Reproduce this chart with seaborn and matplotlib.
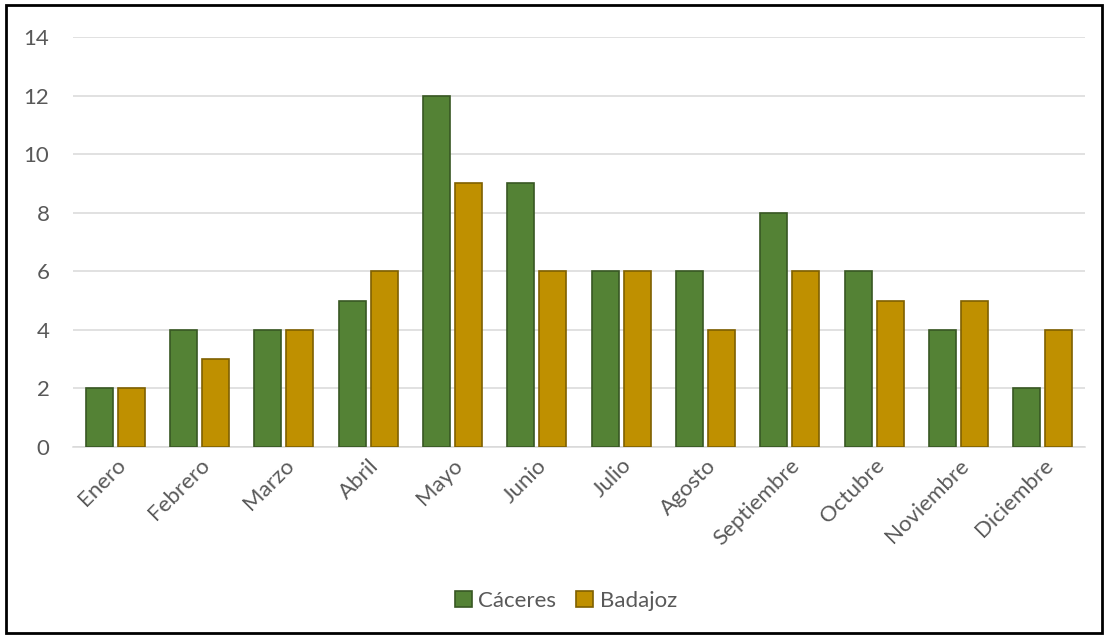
import matplotlib
matplotlib.use("Agg")
import matplotlib.pyplot as plt
from matplotlib.patches import Rectangle
import seaborn as sns
import pandas as pd

months = ["Enero", "Febrero", "Marzo", "Abril", "Mayo", "Junio", "Julio",
          "Agosto", "Septiembre", "Octubre", "Noviembre", "Diciembre"]
caceres = [2, 4, 4, 5, 12, 9, 6, 6, 8, 6, 4, 2]
badajoz = [2, 3, 4, 6, 9, 6, 6, 4, 6, 5, 5, 4]
series_names = ["Cáceres", "Badajoz"]
y_ticks = [0, 2, 4, 6, 8, 10, 12, 14]

fill_colors = ["#548235", "#BF9000"]
edge_colors = ["#385723", "#7F6000"]
text_color = "#595959"
grid_color = "#D9D9D9"

df = pd.DataFrame({
    "Mes": months * 2,
    "Valor": caceres + badajoz,
    "Provincia": [series_names[0]] * len(months) + [series_names[1]] * len(months),
})

sns.set_theme(style="white")
plt.rcParams["font.family"] = ["Lato", "DejaVu Sans"]

fig = plt.figure(figsize=(11.08, 6.37), dpi=100)
ax = fig.add_axes([73 / 1108, 1 - 447 / 637, (1085 - 73) / 1108, (447 - 37) / 637])

sns.barplot(data=df, x="Mes", y="Valor", hue="Provincia", order=months,
            hue_order=series_names, palette=fill_colors, saturation=1,
            width=0.76, gap=0.16, ax=ax, legend=False, zorder=3)

for container, ec in zip(ax.containers, edge_colors):
    for bar in container:
        bar.set_edgecolor(ec)
        bar.set_linewidth(1.2)

ax.set_ylim(0, 14)
ax.set_xlim(-0.5, len(months) - 0.5)
ax.set_yticks(y_ticks)
ax.set_yticklabels([str(t) for t in y_ticks])
ax.yaxis.grid(True, color=grid_color, linewidth=1.1, zorder=0)
ax.set_axisbelow(True)
for side in ["top", "right", "left"]:
    ax.spines[side].set_visible(False)
ax.spines["bottom"].set_color(grid_color)
ax.spines["bottom"].set_linewidth(1.1)
ax.set_xlabel("")
ax.set_ylabel("")
ax.tick_params(axis="y", length=0, pad=17, labelsize=16, labelcolor=text_color)
ax.tick_params(axis="x", length=0, pad=6, labelsize=16, labelcolor=text_color)
for lbl in ax.get_xticklabels():
    lbl.set_rotation(45)
    lbl.set_ha("right")
    lbl.set_va("top")
    lbl.set_rotation_mode("anchor")

handles = [Rectangle((0, 0), 1, 1, facecolor=fc, edgecolor=ec, linewidth=1.2)
           for fc, ec in zip(fill_colors, edge_colors)]
fig.legend(handles, series_names, loc="center", bbox_to_anchor=(566 / 1108, 1 - 601 / 637),
           ncol=2, frameon=False, fontsize=16, labelcolor=text_color,
           handlelength=0.75, handleheight=0.75, handletextpad=0.3, columnspacing=0.9)

fig.add_artist(Rectangle((6 / 1108, 4 / 637), 1096 / 1108, 628 / 637,
                         transform=fig.transFigure, fill=False,
                         edgecolor="black", linewidth=2))

fig.savefig("out.png", dpi=100, facecolor="white")
